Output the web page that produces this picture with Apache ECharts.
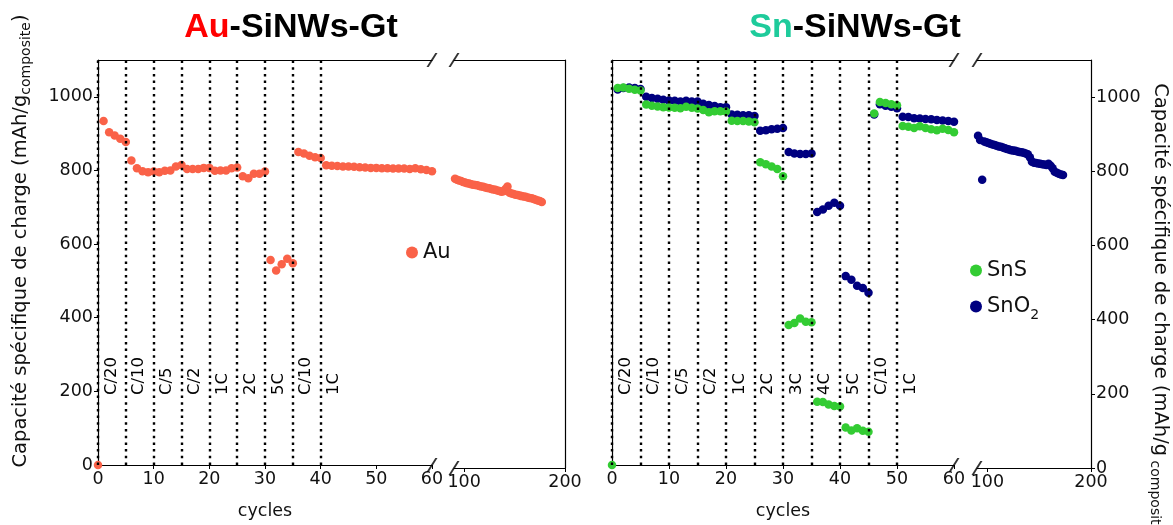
<!DOCTYPE html>
<html>
<head>
<meta charset="utf-8">
<script src="https://cdn.jsdelivr.net/npm/echarts@6/dist/echarts.min.js"></script>
<style>html,body{margin:0;background:#fff}#chart{width:1173px;height:525px}</style>
</head>
<body>
<div id="chart"></div>
<script>
// capacity per cycle, index = cycle number (0..60)
var auRate = [0, 934, 904, 895, 886, 877, 827, 806, 798, 795, 797,
    795, 799, 800, 811, 815, 804, 804, 804, 807, 807,
    799, 800, 800, 806, 808, 784, 779, 791, 791, 797,
    557, 528, 545, 560, 548, 850, 846, 840, 836, 834,
    814, 813, 812, 811, 811, 810, 809, 808, 807, 807,
    806, 806, 805, 805, 805, 804, 806, 803, 801, 798];
var auLongCycles = [91, 93, 95, 97, 99, 101, 103, 105, 107, 109, 111, 113, 115, 117, 119, 121, 123, 125, 127, 129, 131, 133,
    135, 137, 139, 141, 143, 145, 147, 149, 151, 153, 155, 157, 159, 161, 163, 165, 167, 169, 171, 173, 175, 177];
var auLongValues = [780, 777, 775, 774, 771, 770, 768, 767, 765, 764, 763, 762, 760, 759, 758, 756, 755, 754, 752, 751, 750, 748,
    747, 745, 746, 752, 759, 742, 740, 739, 737, 736, 735, 733, 732, 731, 729, 728, 727, 725, 723, 721, 720, 717];

// SnS: cycles 0..60 ; SnO2: cycles 1..60
var snsRate = [0, 1024, 1025, 1022, 1019, 1017, 979, 976, 974, 972, 971,
    970, 969, 973, 970, 968, 964, 958, 961, 961, 960,
    935, 934, 934, 933, 931, 822, 817, 811, 804, 784,
    380, 386, 398, 389, 388, 172, 171, 164, 160, 159,
    102, 94, 100, 93, 90, 955, 986, 983, 980, 977,
    921, 919, 915, 920, 915, 912, 909, 913, 910, 904];
var sno2Rate = [1020, 1024, 1025, 1024, 1021, 1000, 997, 995, 992, 990,
    989, 987, 989, 987, 987, 981, 978, 975, 972, 972,
    952, 951, 950, 950, 948, 908, 909, 912, 913, 915,
    850, 846, 845, 845, 846, 687, 694, 704, 712, 704,
    513, 503, 487, 481, 468, 952, 980, 976, 973, 969,
    946, 945, 942, 941, 940, 939, 937, 936, 934, 932];
var sno2LongCycles = [91, 93, 95, 97, 99, 101, 103, 105, 107, 109, 111, 113, 115, 117, 119, 121, 123, 125, 127, 129, 131,
    133, 135, 137, 139, 141, 143, 145, 147, 149, 151, 153, 155, 157, 159, 161, 163, 165, 167, 169, 171, 173];
var sno2LongValues = [896, 884, 777, 880, 878, 876, 874, 872, 871, 869, 867, 866, 864, 862, 860, 859, 857, 856, 855, 853, 852,
    851, 850, 848, 846, 838, 826, 823, 822, 821, 820, 819, 818, 817, 820, 815, 808, 799, 796, 793, 791, 790];

var rateStartsAu = [0, 5, 10, 15, 20, 25, 30, 35, 40];
var rateNamesAu = ['C/20', 'C/10', 'C/5', 'C/2', '1C', '2C', '5C', 'C/10', '1C'];
var rateStartsSn = [0, 5, 10, 15, 20, 25, 30, 35, 40, 45, 50];
var rateNamesSn = ['C/20', 'C/10', 'C/5', 'C/2', '1C', '2C', '3C', '4C', '5C', 'C/10', '1C'];

var yTicks = [0, 200, 400, 600, 800, 1000];
var xTicksShort = [0, 10, 20, 30, 40, 50, 60];
var xTicksLong = [100, 200];

var font = 'DejaVu Sans';
var ink = '#000';
var txt = '#111';
var auColor = '#fa6248';
var snsColor = '#33cc33';
var sno2Color = '#000080';

function pairs(vals, start) {
    return vals.map(function (v, i) { return [start + i, v]; });
}
function zip(xs, ys) {
    return xs.map(function (x, i) { return [x, ys[i]]; });
}
function plain(v) { return String(v); }

function bottomAxis(grid, min, max, ticks, withName) {
    var ax = {
        gridIndex: grid, type: 'value', min: min, max: max, position: 'bottom',
        axisLine: {onZero: false, lineStyle: {color: ink, width: 1.2}},
        axisTick: {length: 4, customValues: ticks, lineStyle: {color: ink}},
        axisLabel: {customValues: ticks, formatter: plain, color: txt, fontSize: 17.5, fontFamily: font, margin: 5},
        splitLine: {show: false}
    };
    if (withName) {
        ax.name = 'cycles';
        ax.nameLocation = 'middle';
        ax.nameGap = 37;
        ax.nameTextStyle = {color: txt, fontSize: 17.5, fontFamily: font};
    }
    return ax;
}
function topAxis(grid, min, max) {
    return {
        gridIndex: grid, type: 'value', min: min, max: max, position: 'top',
        axisLine: {onZero: false, lineStyle: {color: ink, width: 1.2}},
        axisTick: {show: false}, axisLabel: {show: false}, splitLine: {show: false}
    };
}
function yAxis(grid, pos, labels) {
    return {
        gridIndex: grid, type: 'value', min: 0, max: 1100, position: pos,
        axisLine: {show: true, onZero: false, lineStyle: {color: ink, width: 1.2}},
        axisTick: {show: labels, length: 4, customValues: yTicks, lineStyle: {color: ink}},
        axisLabel: {show: labels, customValues: yTicks, formatter: plain, color: txt, fontSize: 17.5, fontFamily: font, margin: 5},
        splitLine: {show: false}
    };
}

function points(name, color, xi, data, z) {
    return {
        name: name, type: 'scatter', xAxisIndex: xi, yAxisIndex: xi,
        data: data, symbolSize: 8.5, itemStyle: {color: color, opacity: 1}, z: z
    };
}
function rateLabels(xi, starts, names) {
    return {
        type: 'scatter', xAxisIndex: xi, yAxisIndex: xi, silent: true, z: 1,
        symbolSize: 0, itemStyle: {opacity: 1},
        data: starts.map(function (s, i) { return [s + 2.4, 190, names[i]]; }),
        label: {
            show: true, position: 'inside', rotate: 90, align: 'left', verticalAlign: 'middle',
            formatter: function (p) { return p.data[2]; },
            color: '#000', opacity: 1, textBorderWidth: 0, fontSize: 16.5, fontFamily: font
        },
        markLine: {
            silent: true, symbol: 'none', animation: false, label: {show: false},
            lineStyle: {color: ink, type: [2.5, 4.2], width: 2.4},
            emphasis: {disabled: true},
            data: starts.map(function (s) { return {xAxis: s}; })
        }
    };
}
var slash = 'path://M0,13 L2.2,13 L11,0 L8.8,0 Z';
function breaks(xi, x) {
    return {
        type: 'scatter', xAxisIndex: xi, yAxisIndex: xi, silent: true, clip: false, z: 6,
        symbol: slash, symbolSize: [11, 14], itemStyle: {color: ink},
        data: [[x, 0], [x, 1100]]
    };
}

var nameRich = {
    m: {fill: txt, fontSize: 19.5, fontFamily: font, lineHeight: 24},
    s: {fill: txt, fontSize: 14, fontFamily: font, lineHeight: 14, verticalAlign: 'bottom'}
};

var chart = echarts.init(document.getElementById('chart'));
var option = {
    animation: false,
    backgroundColor: '#fff',
    grid: [
        {left: 98, top: 60, width: 334, height: 408},
        {left: 454, top: 60, width: 111, height: 408},
        {left: 612, top: 60, width: 342, height: 408},
        {left: 977, top: 60, width: 114, height: 408}
    ],
    xAxis: [
        bottomAxis(0, 0, 60, xTicksShort, true),
        bottomAxis(1, 90, 200, xTicksLong, false),
        bottomAxis(2, 0, 60, xTicksShort, true),
        bottomAxis(3, 90, 200, xTicksLong, false),
        topAxis(0, 0, 60), topAxis(1, 90, 200), topAxis(2, 0, 60), topAxis(3, 90, 200)
    ],
    yAxis: [
        yAxis(0, 'left', true),
        yAxis(1, 'right', false),
        yAxis(2, 'left', false),
        yAxis(3, 'right', true)
    ],
    legend: [
        {
            data: ['Au'], left: 406, top: 242, padding: 0, icon: 'circle',
            itemWidth: 12, itemHeight: 12, itemGap: 12,
            textStyle: {color: txt, fontSize: 21, fontFamily: font}
        },
        {
            data: ['SnS', 'SnO2'], left: 970, top: 260, padding: 0, orient: 'vertical', icon: 'circle',
            itemWidth: 12, itemHeight: 12, itemGap: 15,
            formatter: function (n) { return n === 'SnO2' ? '{n|SnO}{s|2}' : '{n|' + n + '}'; },
            textStyle: {
                color: txt, fontFamily: font,
                rich: {
                    n: {fontSize: 21, fontFamily: font, color: txt, lineHeight: 25},
                    s: {fontSize: 14, fontFamily: font, color: txt, lineHeight: 14, verticalAlign: 'bottom', padding: [0, 0, -3, 0]}
                }
            }
        }
    ],
    graphic: [
        {
            type: 'text', x: 291, y: 28,
            style: {
                text: '{r|Au}{k|-SiNWs-Gt}', align: 'center', verticalAlign: 'middle',
                rich: {
                    r: {fill: '#ff0000', fontSize: 34, fontWeight: 'bold', fontFamily: 'Liberation Sans'},
                    k: {fill: '#000', fontSize: 34, fontWeight: 'bold', fontFamily: 'Liberation Sans'}
                }
            }
        },
        {
            type: 'text', x: 855, y: 28,
            style: {
                text: '{r|Sn}{k|-SiNWs-Gt}', align: 'center', verticalAlign: 'middle',
                rich: {
                    r: {fill: '#1ecb9b', fontSize: 34, fontWeight: 'bold', fontFamily: 'Liberation Sans'},
                    k: {fill: '#000', fontSize: 34, fontWeight: 'bold', fontFamily: 'Liberation Sans'}
                }
            }
        },
        {
            type: 'text', x: 21, y: 241, rotation: Math.PI / 2,
            style: {
                text: '{m|Capacité spécifique de charge (mAh/g}{s|composite}{m|)}',
                align: 'center', verticalAlign: 'middle', rich: nameRich
            }
        },
        {
            type: 'text', x: 1160, y: 312, rotation: -Math.PI / 2,
            style: {
                text: '{m|Capacité spécifique de charge (mAh/g}{s| composite}{m|)}',
                align: 'center', verticalAlign: 'middle', rich: nameRich
            }
        }
    ],
    series: [
        rateLabels(0, rateStartsAu, rateNamesAu),
        rateLabels(2, rateStartsSn, rateNamesSn),
        points('Au', auColor, 0, pairs(auRate, 0), 3),
        points('Au', auColor, 1, zip(auLongCycles, auLongValues), 3),
        points('SnO2', sno2Color, 2, pairs(sno2Rate, 1), 3),
        points('SnO2', sno2Color, 3, zip(sno2LongCycles, sno2LongValues), 3),
        points('SnS', snsColor, 2, pairs(snsRate, 0), 4),
        breaks(0, 60), breaks(1, 90), breaks(2, 60), breaks(3, 90)
    ]
};
chart.setOption(option);
window.onresize = chart.resize;
</script>
</body>
</html>
